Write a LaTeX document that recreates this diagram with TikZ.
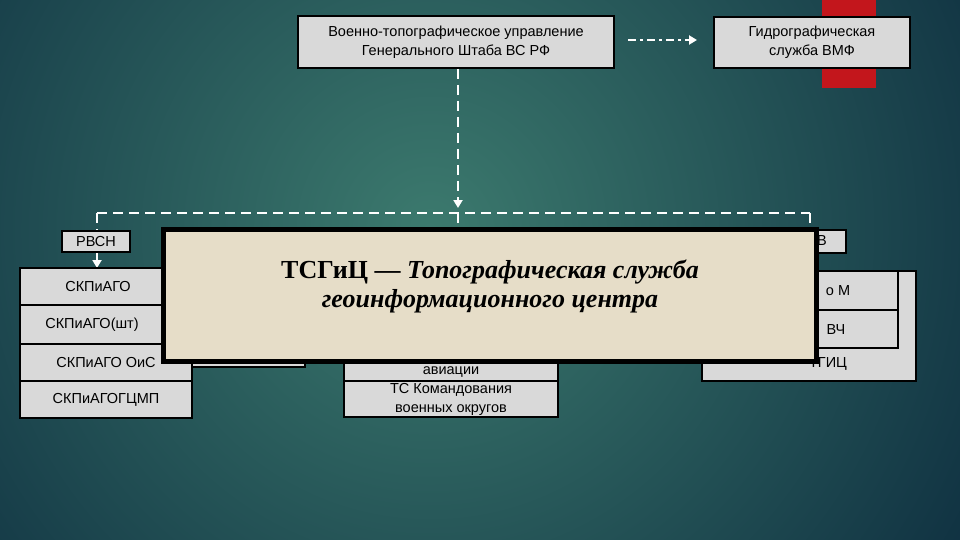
\documentclass[tikz,border=0pt]{standalone}
\usepackage{fontspec}
\setmainfont{Liberation Sans}
\newfontfamily\serifont{Liberation Serif}
\usetikzlibrary{arrows.meta}
\definecolor{boxgray}{HTML}{D9D9D9}
\definecolor{beige}{HTML}{E6DDC8}
\definecolor{redbar}{HTML}{C3161C}
\definecolor{bgin}{RGB}{60,122,110}
\definecolor{bgout}{RGB}{16,50,66}
\tikzset{
  gbox/.style={draw=black,line width=1.8pt,fill=boxgray},
  lbl/.style={font=\fontsize{14.5}{19}\selectfont,align=center,text=black},
  dline/.style={draw=white,line width=2.2pt,dash pattern=on 10pt off 6pt},
  tip/.style={-{Triangle[width=9pt,length=8pt]}},
}
\begin{document}
\begin{tikzpicture}[x=1pt,y=-1pt]
\useasboundingbox (0,0) rectangle (960,540);
\begin{scope}
\clip (0,0) rectangle (960,540);
\fill[bgout] (0,0) rectangle (960,540);
\shade[inner color=bgin,outer color=bgout] (430,230) circle (620);
\end{scope}
\fill[redbar] (822,0) rectangle (876,88);
% top boxes
\draw[gbox] (298,16) rectangle (614,68);
\node[lbl] (vtu) at (456,42) {Военно-топографическое управление\\Генерального Штаба ВС РФ};
\draw[gbox] (714,17) rectangle (910,68);
\node[lbl] (gs) at (812,42) {Гидрографическая\\служба ВМФ};
\coordinate (a1) at (628,40); \coordinate (a2) at (697,40);
\draw[white,line width=2.2pt,dash pattern=on 8pt off 4pt on 3pt off 4pt,tip] (a1) -- (a2);
% dashed tree
\coordinate (t0) at (458,69); \coordinate (t1) at (458,208);
\coordinate (hL) at (97,213); \coordinate (hR) at (810,213);
\coordinate (c0) at (458,213); \coordinate (c1) at (458,230);
\draw[dline,tip] (t0) -- (t1);
\draw[dline] (hL) -- (hR);
\draw[dline] (c0) -- (c1);
\draw[dline] (hL) -- (97,231);
\draw[dline] (hR) -- (810,230);
% RVSN
\draw[gbox,line width=2.4pt] (62,231) rectangle (130,252);
\node[lbl] (rvsn) at (96,241.5) {РВСН};
\coordinate (s0) at (97,253); \coordinate (s1) at (97,268);
\draw[dline,tip] (s0) -- (s1);
% left stack
\draw[gbox] (20,268) rectangle (192,305);
\draw[gbox] (20,305) rectangle (192,344);
\draw[gbox] (20,344) rectangle (192,381);
\draw[gbox] (20,381) rectangle (192,418);
\node[lbl] (l1) at (98,287) {СКПиАГО};
\node[lbl] (l2) at (92,325) {СКПиАГО(шт)};
\node[lbl] (l3) at (106,363) {СКПиАГО ОиС};
\node[lbl] (l4) at (106,400) {СКПиАГОГЦМП};
\draw[gbox] (192,300) rectangle (305,367);
% middle stack
\draw[gbox] (344,300) rectangle (558,381);
\draw[gbox] (344,381) rectangle (558,417);
\node[lbl] (m1) at (451,372) {авиации};
\node[lbl] (m2) at (451,399) {ТС Командования\\военных округов};
% right
\draw[gbox,line width=2.4pt] (700,230) rectangle (846,253);
\node[lbl] (rv) at (822,241) {В};
\draw[gbox] (702,271) rectangle (916,381);
\draw[gbox] (702,271) rectangle (898,310);
\draw[gbox] (702,310) rectangle (898,348);
\node[lbl] (r1) at (838,291) {о М};
\node[lbl] (r2) at (836,330) {ВЧ};
\node[lbl] (r3) at (828,364) {ТГИЦ};
% overlay
\draw[draw=black,line width=5pt,fill=beige] (163,229) rectangle (816,361);
\node[font=\serifont\bfseries\fontsize{26}{29}\selectfont,align=center,text=black] (ov) at (490,286)
  {ТСГиЦ — \itshape Топографическая служба\\\itshape геоинформационного центра};
\end{tikzpicture}
\end{document}
